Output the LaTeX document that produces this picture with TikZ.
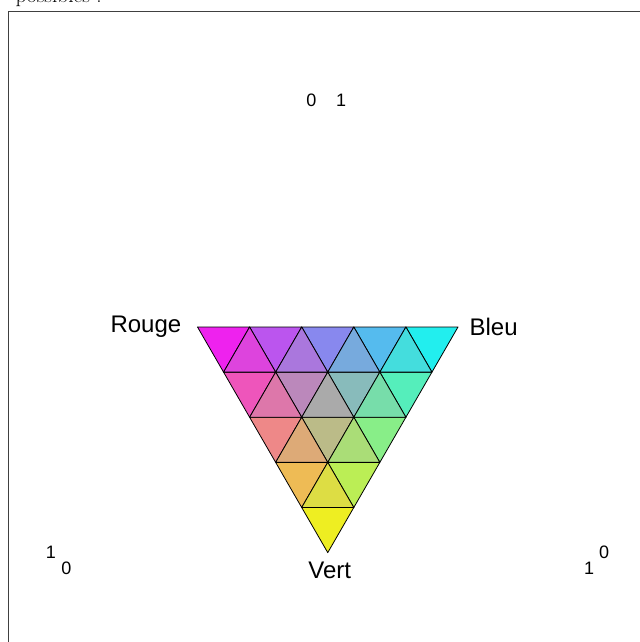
\documentclass[tikz,border=0pt]{standalone}
\usepackage{fontspec}
\setsansfont{Liberation Sans}
\usetikzlibrary{positioning,calc}

\begin{document}
\begin{tikzpicture}[
    x=0.75pt, y=-0.75pt,
    cell/.style={draw=black, line width=0.6pt, line join=round},
    vlbl/.style={font=\sffamily\fontsize{18}{21}\selectfont, inner sep=0pt},
    ticklbl/.style={font=\sffamily\fontsize{13.5}{16}\selectfont, inner sep=0pt},
  ]
  \useasboundingbox (0,0) rectangle (639,642);

  % cut-off line of text above the frame
  \node[font=\fontsize{16}{19}\selectfont, inner sep=0pt, anchor=base east] (head)
    at (102,2.7) {possibles :};

  % frame
  \draw[line width=0.8pt, black!75] (8.5,660) |- (660,11.5);

  % triangle grid, lattice units
  \begin{scope}[shift={(197.5,327)}, x={(39.075pt,0pt)}, y={(19.5375pt,-33.84pt)}]
    \coordinate (R) at (0,0);
    \coordinate (B) at (5,0);
    \coordinate (V) at (0,5);
    % downward cells
    \foreach \j in {0,...,4}{
      \pgfmathtruncatemacro\imax{4-\j}
      \foreach \i in {0,...,\imax}{
        \pgfmathsetmacro\wb{(\i+1/3)/5}
        \pgfmathsetmacro\wv{(\j+1/3)/5}
        \pgfmathsetmacro\colR{1-\wb}
        \pgfmathsetmacro\colG{\wb+\wv}
        \pgfmathsetmacro\colB{1-\wv}
        \definecolor{tint}{rgb}{\colR,\colG,\colB}
        \filldraw[cell, fill=tint] (\i,\j) -- (\i+1,\j) -- (\i,\j+1) -- cycle;
      }
    }
    % upward cells
    \foreach \j in {0,...,3}{
      \pgfmathtruncatemacro\imax{3-\j}
      \foreach \i in {0,...,\imax}{
        \pgfmathsetmacro\wb{(\i+2/3)/5}
        \pgfmathsetmacro\wv{(\j+2/3)/5}
        \pgfmathsetmacro\colR{1-\wb}
        \pgfmathsetmacro\colG{\wb+\wv}
        \pgfmathsetmacro\colB{1-\wv}
        \definecolor{tint}{rgb}{\colR,\colG,\colB}
        \filldraw[cell, fill=tint] (\i+1,\j) -- (\i+1,\j+1) -- (\i,\j+1) -- cycle;
      }
    }
  \end{scope}

  % vertex labels
  \node[vlbl, left=12pt of R]  (rouge) {Rouge};
  \node[vlbl, right=8.5pt of B] (bleu) {Bleu};
  \node[vlbl, below=6.75pt of V, xshift=1.5pt] (vert) {Vert};

  % axis ends
  \node[ticklbl] (t0) at (311.3,100.5) {0};
  \node[ticklbl] (t1) at (341,100.5) {1};
  \node[ticklbl] (l1) at (51,552.5) {1};
  \node[ticklbl] (l0) at (66.5,568.5) {0};
  \node[ticklbl] (r0) at (604,552.5) {0};
  \node[ticklbl] (r1) at (589,568.5) {1};
\end{tikzpicture}
\end{document}
